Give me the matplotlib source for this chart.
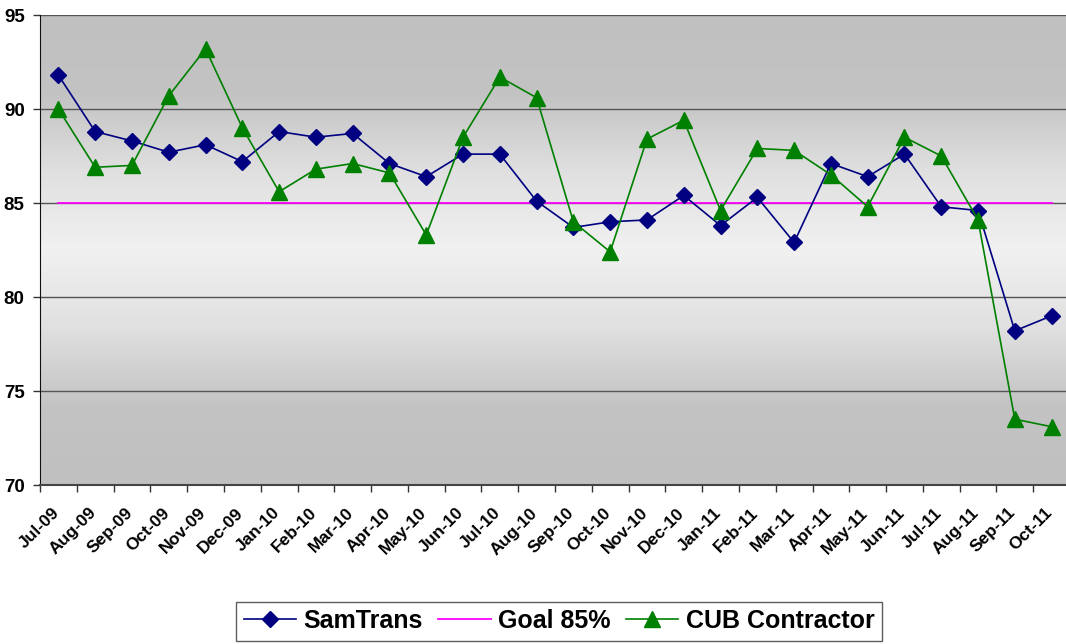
import numpy as np
import matplotlib.pyplot as plt
import matplotlib.transforms as mtransforms
from matplotlib.colors import LinearSegmentedColormap

# monthly scores
months = ['Jul-09', 'Aug-09', 'Sep-09', 'Oct-09', 'Nov-09', 'Dec-09',
          'Jan-10', 'Feb-10', 'Mar-10', 'Apr-10', 'May-10', 'Jun-10',
          'Jul-10', 'Aug-10', 'Sep-10', 'Oct-10', 'Nov-10', 'Dec-10',
          'Jan-11', 'Feb-11', 'Mar-11', 'Apr-11', 'May-11', 'Jun-11',
          'Jul-11', 'Aug-11', 'Sep-11', 'Oct-11']
samtrans = [91.8, 88.8, 88.3, 87.7, 88.1, 87.2, 88.8, 88.5, 88.7, 87.1,
            86.4, 87.6, 87.6, 85.1, 83.7, 84.0, 84.1, 85.4, 83.8, 85.3,
            82.9, 87.1, 86.4, 87.6, 84.8, 84.6, 78.2, 79.0]
cub = [90.0, 86.9, 87.0, 90.7, 93.2, 89.0, 85.6, 86.8, 87.1, 86.6,
       83.3, 88.5, 91.7, 90.6, 84.0, 82.4, 88.4, 89.4, 84.6, 87.9,
       87.8, 86.5, 84.8, 88.5, 87.5, 84.1, 73.5, 73.1]
goal = 85
y_ticks = [70, 75, 80, 85, 90, 95]

plt.rcParams['font.family'] = ['Liberation Sans', 'DejaVu Sans']
plt.rcParams['font.weight'] = 'bold'

fig = plt.figure(figsize=(10.66, 6.44), dpi=100)
ax = fig.add_axes([40 / 1066, 159 / 644, 1030 / 1066, 470 / 644])

x = np.arange(len(months))

# gray gradient: dark at top/bottom, light in the middle
cmap = LinearSegmentedColormap.from_list('bg', ['#c0c0c0', '#c3c3c3', '#e0e0e0', '#f1f1f1',
                                                 '#e0e0e0', '#c3c3c3', '#c0c0c0'])
grad = np.linspace(0, 1, 256).reshape(-1, 1)
ax.imshow(grad, aspect='auto', cmap=cmap, extent=[-0.5, len(months) - 0.5, 70, 95],
          origin='lower', zorder=0, interpolation='bilinear')

for yv in y_ticks[1:]:
    ax.axhline(yv, color='#555555', lw=1.0, zorder=1)

ax.plot(x, samtrans, color='#000080', lw=1.2, marker='D', markersize=8.5,
        label='SamTrans', zorder=4)
ax.plot([x[0], x[-1]], [goal, goal], color='#ff00ff', lw=1.3, label='Goal 85%', zorder=3)
ax.plot(x, cub, color='#008000', lw=1.2, marker='^', markersize=12,
        label='CUB Contractor', zorder=5)

ax.set_xlim(-0.5, len(months) - 0.5)
ax.set_ylim(70, 95)
ax.set_yticks(y_ticks)
ax.set_yticklabels([str(v) for v in y_ticks], fontsize=13.5, fontweight='bold')
ax.tick_params(axis='y', length=5, width=1, pad=6, color='#333333')

# labels at category centres, tick marks at boundaries
ax.set_xticks(x)
ax.set_xticklabels(months, rotation=45, ha='right', rotation_mode='anchor',
                   fontsize=12.5, fontweight='bold')
ax.tick_params(axis='x', which='major', length=0, pad=8)
ax.set_xticks(np.arange(-0.5, len(months)), minor=True)
ax.tick_params(axis='x', which='minor', length=5, width=1, color='#333333')
shift = mtransforms.ScaledTranslation(-7 / 100, -9 / 100, fig.dpi_scale_trans)
for lbl in ax.get_xticklabels():
    lbl.set_transform(lbl.get_transform() + shift)

for s in ['top', 'right']:
    ax.spines[s].set_visible(False)
ax.spines['left'].set_color('#111111')
ax.spines['bottom'].set_color('#444444')
ax.spines['bottom'].set_linewidth(1.5)

leg = fig.legend(loc='center', bbox_to_anchor=(559 / 1066, 23 / 644), ncol=3,
                 frameon=True, fancybox=False, edgecolor='#333333',
                 prop={'size': 18, 'weight': 'bold'}, handlelength=2.1,
                 columnspacing=0.6, handletextpad=0.3, borderpad=0.3,
                 borderaxespad=0.2)
leg.get_frame().set_linewidth(1.0)

fig.savefig('out.png', dpi=100)
